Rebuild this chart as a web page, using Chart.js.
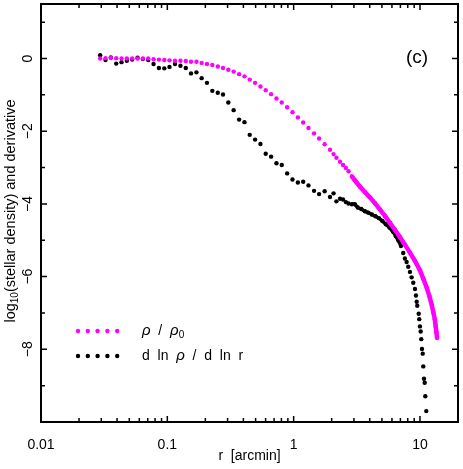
<!DOCTYPE html>
<html>
<head>
<meta charset="utf-8">
<script src="https://cdn.jsdelivr.net/npm/chart.js@4.4.1/dist/chart.umd.min.js"></script>
<style>
  html, body { margin: 0; padding: 0; background: #fff; }
  #wrap { width: 463px; height: 469px; position: relative; }
</style>
</head>
<body>
<div id="wrap"><canvas id="c"></canvas></div>
<script>
// r [arcmin] and log10(rho/rho0)
const rRho = [0.0294, 0.0324, 0.0357, 0.0394, 0.0434, 0.0478, 0.0527, 0.0581, 0.0640, 0.0706,
  0.0778, 0.0858, 0.0946, 0.104, 0.115, 0.127, 0.140, 0.154, 0.170, 0.187,
  0.206, 0.227, 0.251, 0.276, 0.304, 0.335, 0.370, 0.408, 0.449, 0.495,
  0.546, 0.601, 0.663, 0.731, 0.805, 0.888, 0.979, 1.08, 1.19, 1.31,
  1.45, 1.59, 1.76, 1.94,
  2.07, 2.18, 2.33, 2.46, 2.59, 2.72, 2.89, 3.05, 3.34, 3.66,
  4.01, 4.40, 4.81, 5.28, 5.78, 6.33, 6.94, 7.60, 8.33, 9.13,
  10.0, 10.6, 11.3, 11.85, 12.4, 12.75, 13.1, 13.3, 13.5, 13.65];
const logRho = [0, 0.01, 0.02, 0.01, 0, 0, 0, 0, 0, 0,
  -0.02, -0.03, -0.04, -0.05, -0.06, -0.06, -0.07, -0.09, -0.09, -0.12,
  -0.15, -0.18, -0.22, -0.26, -0.31, -0.36, -0.43, -0.49, -0.58, -0.67,
  -0.77, -0.87, -0.98, -1.10, -1.21, -1.34, -1.48, -1.62, -1.76, -1.91,
  -2.06, -2.20, -2.36, -2.51,
  -2.63, -2.73, -2.84, -2.93, -3.01, -3.10, -3.24, -3.35, -3.52, -3.67,
  -3.82, -3.98, -4.15, -4.33, -4.52, -4.71, -4.91, -5.12, -5.34, -5.57,
  -5.83, -6.05, -6.30, -6.53, -6.78, -6.98, -7.17, -7.36, -7.53, -7.69];

// r [arcmin] and d ln rho / d ln r
const rDeriv = [0.0294, 0.0324, 0.0357, 0.0394, 0.0434, 0.0478, 0.0527, 0.0581, 0.0640, 0.0706,
  0.0778, 0.0858, 0.0946, 0.104, 0.115, 0.127, 0.140, 0.154, 0.170, 0.187,
  0.206, 0.227, 0.251, 0.276, 0.304, 0.335, 0.370, 0.408, 0.449, 0.495,
  0.546, 0.601, 0.663, 0.731, 0.805, 0.888, 0.979, 1.08, 1.19, 1.31,
  1.45, 1.59, 1.76, 1.94,
  2.07, 2.18, 2.33, 2.46, 2.59, 2.72, 2.89, 3.05, 3.22, 3.43,
  3.66, 3.90, 4.16, 4.44, 4.73, 5.04, 5.37, 5.73, 6.11, 6.45,
  6.75, 7.07, 7.37, 7.60, 7.84, 8.08, 8.33, 8.59, 8.85, 9.13,
  9.30, 9.42, 9.52, 9.77, 9.87, 10.0, 10.13, 10.24, 10.37, 10.51,
  10.62, 10.76, 10.90, 11.02, 11.22];
const dlnRho = [0.09, -0.04, 0.03, -0.14, -0.10, -0.06, -0.03, 0.02, -0.01, -0.04,
  -0.15, -0.26, -0.27, -0.23, -0.15, -0.20, -0.26, -0.41, -0.38, -0.54,
  -0.67, -0.89, -0.94, -0.99, -1.21, -1.42, -1.68, -1.75, -2.10, -2.23,
  -2.35, -2.62, -2.70, -2.88, -2.93, -3.16, -3.33, -3.41, -3.39, -3.49,
  -3.64, -3.73, -3.65, -3.81,
  -3.71, -3.93, -3.86, -3.88, -3.95, -3.99, -4.01, -4.01, -4.10, -4.14,
  -4.20, -4.24, -4.29, -4.34, -4.39, -4.47, -4.56, -4.65, -4.76, -4.89,
  -5.01, -5.16, -5.35, -5.50, -5.60, -5.73, -5.87, -6.02, -6.17, -6.34,
  -6.52, -6.69, -6.80, -7.02, -7.17, -7.37, -7.51, -7.72, -7.99, -8.12,
  -8.47, -8.81, -8.92, -9.29, -9.70];

const xMajorTicks = [0.01, 0.1, 1, 10];
const xTickLabels = ["0.01", "0.1", "1", "10"];
const xMinorTicks = [0.02, 0.03, 0.04, 0.05, 0.06, 0.07, 0.08, 0.09,
  0.2, 0.3, 0.4, 0.5, 0.6, 0.7, 0.8, 0.9, 2, 3, 4, 5, 6, 7, 8, 9];
const yMajorTicks = [0, -2, -4, -6, -8];
const yTickLabels = ["0", "\u22122", "\u22124", "\u22126", "\u22128"];
const yMinorTicks = [1, -1, -3, -5, -7, -9];

const MAGENTA = "#ff00ff";
const FONT = "Liberation Sans, Arial, sans-serif";

function pts(xs, ys) {
  return xs.map((x, i) => ({ x: x, y: ys[i] }));
}

// joins the densely sampled part of a series into a solid trail
function denseSegment(color, from, to) {
  return ctx => (ctx.p0.parsed.x >= from && ctx.p1.parsed.x <= to) ? color : "rgba(0,0,0,0)";
}

const framePlugin = {
  id: "frame",
  afterDraw(chart) {
    const { ctx, chartArea: a, scales: { x, y } } = chart;
    ctx.save();
    ctx.strokeStyle = "#000";
    ctx.fillStyle = "#000";

    // ticks, pointing inward on all four sides
    ctx.lineWidth = 1.5;
    ctx.beginPath();
    xMajorTicks.concat(xMinorTicks).forEach(v => {
      const px = x.getPixelForValue(v);
      const len = xMajorTicks.includes(v) ? 6 : 4;
      ctx.moveTo(px, a.bottom); ctx.lineTo(px, a.bottom - len);
      ctx.moveTo(px, a.top); ctx.lineTo(px, a.top + len);
    });
    yMajorTicks.concat(yMinorTicks).forEach(v => {
      const py = y.getPixelForValue(v);
      const len = yMajorTicks.includes(v) ? 6 : 4;
      ctx.moveTo(a.left, py); ctx.lineTo(a.left + len, py);
      ctx.moveTo(a.right, py); ctx.lineTo(a.right - len, py);
    });
    ctx.stroke();

    ctx.lineWidth = 2;
    ctx.strokeRect(a.left, a.top, a.right - a.left, a.bottom - a.top);

    // y tick labels, written along the axis
    ctx.font = "14px " + FONT;
    ctx.textAlign = "center";
    ctx.textBaseline = "middle";
    yMajorTicks.forEach((v, i) => {
      ctx.save();
      ctx.translate(28, y.getPixelForValue(v));
      ctx.rotate(-Math.PI / 2);
      ctx.fillText(yTickLabels[i], 0, 0);
      ctx.restore();
    });

    // y title with subscript
    ctx.save();
    ctx.translate(11, 211);
    ctx.rotate(-Math.PI / 2);
    ctx.textAlign = "left";
    const big = "14.5px " + FONT, small = "10px " + FONT;
    const parts = [["log", big, 0], ["10", small, 4], ["(stellar density) and derivative", big, 0]];
    let w = 0;
    parts.forEach(p => { ctx.font = p[1]; w += ctx.measureText(p[0]).width; });
    let cx = -w / 2;
    parts.forEach(p => {
      ctx.font = p[1];
      ctx.fillText(p[0], cx, p[2]);
      cx += ctx.measureText(p[0]).width;
    });
    ctx.restore();

    // panel tag
    ctx.font = "19px " + FONT;
    ctx.textAlign = "center";
    ctx.fillText("(c)", 417, 58);

    // legend
    const legendRows = [
      { color: MAGENTA, yy: 331, text: [["\u03c1", "italic 15px", 0], ["  /  ", "14px", 0], ["\u03c1", "italic 15px", 0], ["0", "10px", 4]] },
      { color: "#000", yy: 356, text: [["d  ln  ", "14px", 0], ["\u03c1", "italic 15px", 0], ["  /  d  ln  r", "14px", 0]] }
    ];
    legendRows.forEach(row => {
      ctx.fillStyle = row.color;
      for (let k = 0; k < 5; k++) {
        ctx.beginPath();
        ctx.arc(78 + k * 9.8, row.yy, 2.2, 0, Math.PI * 2);
        ctx.fill();
      }
      ctx.fillStyle = "#000";
      ctx.textAlign = "left";
      let tx = 142;
      row.text.forEach(p => {
        ctx.font = p[1] + " " + FONT;
        ctx.fillText(p[0], tx, row.yy + p[2]);
        tx += ctx.measureText(p[0]).width;
      });
    });
    ctx.restore();
  }
};

new Chart(document.getElementById("c"), {
  type: "scatter",
  data: {
    datasets: [
      {
        label: "rho / rho0",
        data: pts(rRho, logRho),
        pointRadius: 2.2,
        pointBorderWidth: 0,
        pointBackgroundColor: MAGENTA,
        showLine: true,
        borderWidth: 4.5,
        borderColor: "rgba(0,0,0,0)",
        segment: { borderColor: denseSegment(MAGENTA, 2.85, 20) }
      },
      {
        label: "d ln rho / d ln r",
        data: pts(rDeriv, dlnRho),
        pointRadius: 2.2,
        pointBorderWidth: 0,
        pointBackgroundColor: "#000",
        showLine: true,
        borderWidth: 3.5,
        borderColor: "rgba(0,0,0,0)",
        segment: { borderColor: denseSegment("#000", 2.85, 7.1) }
      }
    ]
  },
  options: {
    responsive: true,
    maintainAspectRatio: false,
    animation: false,
    layout: { padding: { top: 4, right: 5, left: 0, bottom: 0 } },
    scales: {
      x: {
        type: "logarithmic",
        min: 0.01,
        max: 20,
        grid: { display: false },
        border: { display: false },
        afterBuildTicks: s => { s.ticks = xMajorTicks.map(v => ({ value: v })); },
        afterFit: s => { s.height = 47; },
        ticks: {
          padding: 7,
          color: "#000",
          font: { family: FONT, size: 14 },
          maxRotation: 0,
          autoSkip: false,
          callback: v => xTickLabels[xMajorTicks.indexOf(v)] ?? ""
        },
        title: {
          display: true,
          text: "r  [arcmin]",
          color: "#000",
          font: { family: FONT, size: 14 },
          padding: { top: 10 }
        }
      },
      y: {
        min: -10,
        max: 1.5,
        grid: { display: false },
        border: { display: false },
        afterFit: s => { s.width = 41; },
        ticks: { display: false }
      }
    },
    plugins: {
      legend: { display: false },
      tooltip: { enabled: false }
    }
  },
  plugins: [framePlugin]
});
</script>
</body>
</html>
